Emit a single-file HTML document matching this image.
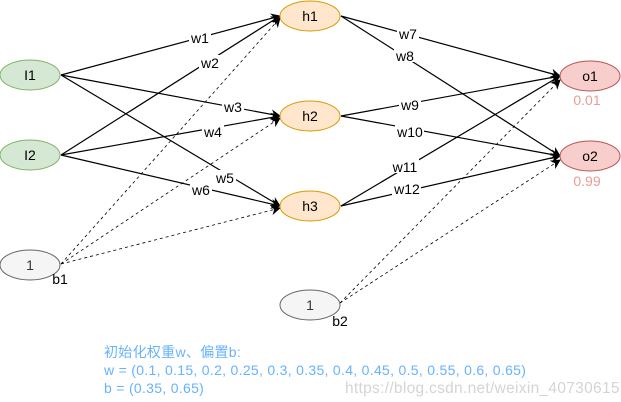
<!DOCTYPE html>
<html><head><style>
body{margin:0;background:#fff;width:621px;height:402px;overflow:hidden;position:relative;font-family:"Liberation Sans","Noto Sans CJK SC",sans-serif}
svg{position:absolute;left:0;top:0}
.t{position:absolute;color:#66b3ff;font-size:14px;letter-spacing:0.3px;left:104px;line-height:18px}
</style></head><body>
<svg width="621" height="402" font-family="Liberation Sans, sans-serif" font-size="14">
<defs><marker id="a" markerWidth="10" markerHeight="10" refX="9" refY="5" orient="auto" markerUnits="userSpaceOnUse"><path d="M0,0 L10,5 L0,10 L3,5z" fill="#000"/></marker></defs>
<g stroke="#000" stroke-width="1.2" fill="none" marker-end="url(#a)">
<line x1="61" y1="75" x2="280" y2="16"/>
<line x1="61" y1="155" x2="280" y2="16"/>
<line x1="61" y1="75" x2="280" y2="116"/>
<line x1="61" y1="155" x2="280" y2="116"/>
<line x1="61" y1="75" x2="280" y2="206"/>
<line x1="61" y1="155" x2="280" y2="206"/>
<line x1="341" y1="16" x2="560" y2="76"/>
<line x1="341" y1="16" x2="560" y2="156"/>
<line x1="341" y1="116" x2="560" y2="76"/>
<line x1="341" y1="116" x2="560" y2="156"/>
<line x1="341" y1="206" x2="560" y2="76"/>
<line x1="341" y1="206" x2="560" y2="156"/>
</g>
<g stroke="#000" stroke-width="0.8" fill="none" stroke-dasharray="3,3" marker-end="url(#a)">
<line x1="61" y1="264" x2="280" y2="18"/>
<line x1="61" y1="264" x2="280" y2="118"/>
<line x1="61" y1="264" x2="280" y2="208"/>
<line x1="340" y1="303" x2="560" y2="80"/>
<line x1="340" y1="303" x2="560" y2="160"/>
</g>
<g fill="#d5e8d4" stroke="#82b366"><ellipse cx="30" cy="75" rx="30" ry="15"/><ellipse cx="30" cy="155" rx="30" ry="15"/></g>
<g fill="#f5f5f5" stroke="#666"><ellipse cx="30" cy="265" rx="30" ry="15"/><ellipse cx="310" cy="305" rx="30" ry="15"/></g>
<g fill="#ffe6cc" stroke="#d79b00"><ellipse cx="310" cy="16" rx="30" ry="15"/><ellipse cx="310" cy="116" rx="30" ry="15"/><ellipse cx="310" cy="206" rx="30" ry="15"/></g>
<g fill="#f8cecc" stroke="#b85450"><ellipse cx="590" cy="76" rx="30" ry="15"/><ellipse cx="590" cy="156" rx="30" ry="15"/></g>
<g text-anchor="middle" fill="#000">
<text x="30" y="80">I1</text><text x="30" y="160">I2</text>
<text x="30" y="270" fill="#333">1</text><text x="310" y="310" fill="#333">1</text>
<text x="310" y="21">h1</text><text x="310" y="121">h2</text><text x="310" y="211">h3</text>
<text x="590" y="81">o1</text><text x="590" y="161">o2</text>
<text x="60" y="284">b1</text><text x="340" y="326">b2</text>
</g>
<g text-anchor="middle" fill="#ea9a98"><text x="587" y="105">0.01</text><text x="587" y="186">0.99</text></g>
<g text-anchor="middle" fill="#000">
<g fill="#fff"><rect x="189" y="30" width="22" height="14"/><rect x="199" y="55" width="22" height="14"/><rect x="222" y="99" width="22" height="14"/><rect x="202" y="124" width="22" height="14"/><rect x="214" y="170" width="22" height="14"/><rect x="190" y="182" width="22" height="14"/><rect x="397" y="26" width="22" height="14"/><rect x="394" y="48" width="22" height="14"/><rect x="399" y="97" width="22" height="14"/><rect x="395" y="124" width="29" height="14"/><rect x="390" y="159" width="29" height="14"/><rect x="392" y="181" width="29" height="14"/></g>
<text x="200" y="43">w1</text><text x="210" y="68">w2</text><text x="233" y="112">w3</text><text x="213" y="137">w4</text><text x="225" y="183">w5</text><text x="201" y="195">w6</text>
<text x="408" y="39">w7</text><text x="405" y="61">w8</text><text x="410" y="110">w9</text><text x="410" y="137">w10</text><text x="405" y="172">w11</text><text x="407" y="194">w12</text>
</g>
<text x="345" y="393" fill="#d4d4d4" font-size="15.5" letter-spacing="0.3">https://blog.csdn.net/weixin_40730615</text>
</svg>
<div class="t" style="top:343px">初始化权重w、偏置b:<br>w = (0.1, 0.15, 0.2, 0.25, 0.3, 0.35, 0.4, 0.45, 0.5, 0.55, 0.6, 0.65)<br>b = (0.35, 0.65)</div>
</body></html>
